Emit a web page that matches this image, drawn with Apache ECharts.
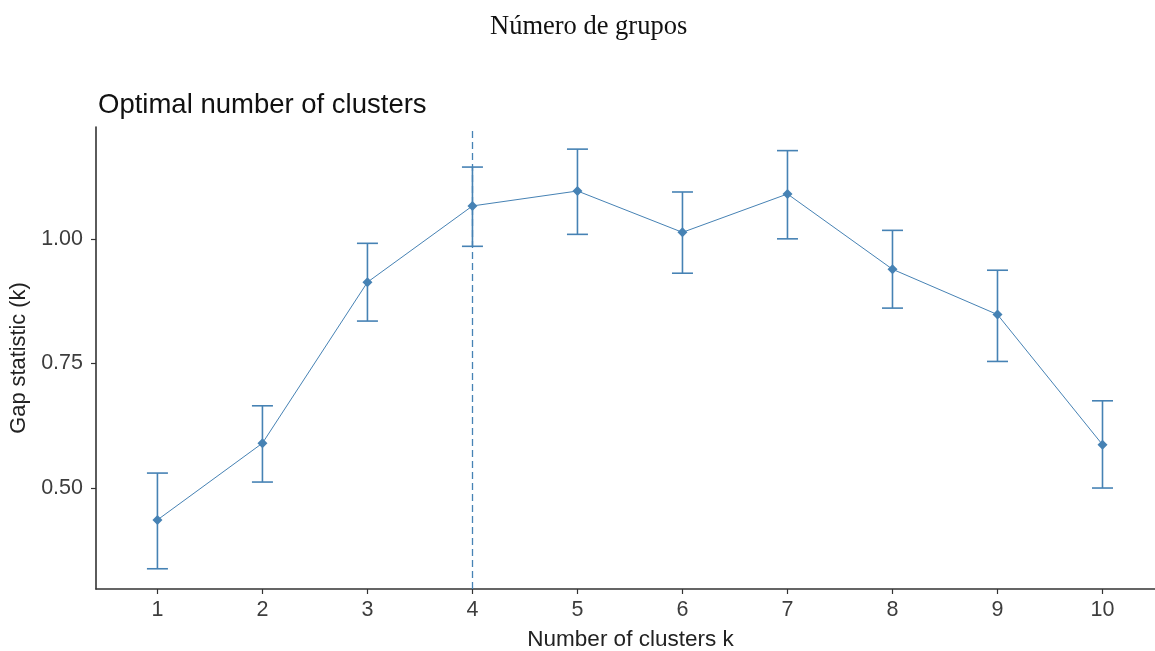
<!DOCTYPE html>
<html>
<head>
<meta charset="utf-8">
<script src="https://cdn.jsdelivr.net/npm/echarts@6/dist/echarts.min.js"></script>
<style>
  html, body { margin: 0; padding: 0; background: #fff; }
  #chart { width: 1155px; height: 651px; }
</style>
</head>
<body>
<div id="chart"></div>
<script>
// Gap statistic by number of clusters, with standard-error bars
const clusters = [1, 2, 3, 4, 5, 6, 7, 8, 9, 10];
const gapValues = [0.436, 0.590, 0.913, 1.066, 1.096, 1.013, 1.090, 0.939, 0.848, 0.587];
const gapUpper = [0.530, 0.665, 0.991, 1.144, 1.180, 1.094, 1.177, 1.017, 0.937, 0.675];
const gapLower = [0.338, 0.512, 0.835, 0.985, 1.009, 0.931, 1.000, 0.861, 0.754, 0.500];
const yTicks = [0.50, 0.75, 1.00];
const optimalK = 4;

const steel = '#4682B4';
const axisColor = '#333333';
const tickTextColor = '#3d3d3d';

const linePoints = clusters.map((k, i) => [k, gapValues[i]]);
const barData = clusters.map((k, i) => [k, gapLower[i], gapUpper[i]]);

const chart = echarts.init(document.getElementById('chart'));
chart.setOption({
  backgroundColor: '#fff',
  animation: false,
  title: [
    {
      text: 'Número de grupos',
      left: 485,
      top: 9,
      textStyle: { fontFamily: 'Liberation Serif', fontSize: 26.5, fontWeight: 'normal', color: '#111' }
    },
    {
      text: 'Optimal number of clusters',
      left: 93,
      top: 86,
      textStyle: { fontFamily: 'Liberation Sans', fontSize: 27.5, fontWeight: 'normal', color: '#111' }
    }
  ],
  grid: { left: 96, right: 0, top: 127, bottom: 62, containLabel: false, outerBoundsMode: 'none' },
  xAxis: {
    type: 'value',
    min: 0.415,
    max: 10.5,
    name: 'Number of clusters k',
    nameLocation: 'middle',
    nameGap: 39,
    nameTextStyle: { fontFamily: 'Liberation Sans', fontSize: 22.5, color: '#222', padding: [0, 0, 0, 10] },
    splitLine: { show: false },
    axisLine: { onZero: false, lineStyle: { color: axisColor, width: 1.6 } },
    axisTick: { show: true, length: 5, customValues: clusters, lineStyle: { color: axisColor, width: 1.2 } },
    axisLabel: {
      customValues: clusters,
      margin: 10,
      fontFamily: 'Liberation Sans', fontSize: 21.5, color: tickTextColor
    }
  },
  yAxis: {
    type: 'value',
    min: 0.2974,
    max: 1.2244,
    name: 'Gap statistic (k)',
    nameLocation: 'middle',
    nameGap: 64,
    nameRotate: 90,
    nameTextStyle: { fontFamily: 'Liberation Sans', fontSize: 21.8, color: '#222' },
    splitLine: { show: false },
    axisLine: { show: true, lineStyle: { color: axisColor, width: 1.6 } },
    axisTick: { show: true, length: 5, customValues: yTicks, lineStyle: { color: axisColor, width: 1.2 } },
    axisLabel: {
      customValues: yTicks,
      margin: 13,
      formatter: v => v.toFixed(2),
      fontFamily: 'Liberation Sans', fontSize: 21.5, color: tickTextColor
    }
  },
  series: [
    {
      type: 'custom',
      name: 'se',
      data: barData,
      encode: { x: 0, y: [1, 2] },
      z: 2,
      renderItem: function (params, api) {
        const k = api.value(0);
        const lo = api.coord([k, api.value(1)]);
        const hi = api.coord([k, api.value(2)]);
        const halfCap = (api.coord([k + 0.1, 0])[0] - api.coord([k, 0])[0]);
        const style = { stroke: steel, lineWidth: 1.6, fill: null };
        return {
          type: 'group',
          children: [
            { type: 'line', shape: { x1: lo[0], y1: lo[1], x2: hi[0], y2: hi[1] }, style },
            { type: 'line', shape: { x1: hi[0] - halfCap, y1: hi[1], x2: hi[0] + halfCap, y2: hi[1] }, style },
            { type: 'line', shape: { x1: lo[0] - halfCap, y1: lo[1], x2: lo[0] + halfCap, y2: lo[1] }, style }
          ]
        };
      }
    },
    {
      type: 'line',
      name: 'gap',
      data: linePoints,
      z: 3,
      symbol: 'diamond',
      symbolSize: 10,
      showSymbol: true,
      lineStyle: { color: steel, width: 1 },
      itemStyle: { color: steel },
      markLine: {
        silent: true,
        symbol: ['none', 'none'],
        label: { show: false },
        lineStyle: { color: steel, type: [7, 4], width: 1.3 },
        data: [{ xAxis: optimalK }]
      }
    }
  ]
});
</script>
</body>
</html>
